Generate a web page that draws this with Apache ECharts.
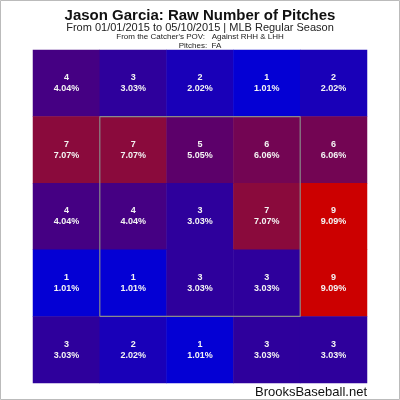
<!DOCTYPE html>
<html><head><meta charset="utf-8">
<script src="https://cdn.jsdelivr.net/npm/echarts@6/dist/echarts.min.js"></script>
<style>html,body{margin:0;padding:0;background:#fff}#c{width:400px;height:400px}</style>
</head><body><div id="c"></div>
<script>
const titleText = 'Jason Garcia: Raw Number of Pitches';
const subText = 'From 01/01/2015 to 05/10/2015 | MLB Regular Season';
const povText = "From the Catcher's POV:   Against RHH & LHH";
const pitchText = 'Pitches:  FA';
const colCats = ['c1','c2','c3','c4','c5'];
const rowCats = ['r1','r2','r3','r4','r5'];
const row1 = [4,3,2,1,2];
const row2 = [7,7,5,6,6];
const row3 = [4,4,3,7,9];
const row4 = [1,1,3,3,9];
const row5 = [3,2,1,3,3];
const zoneX = [1,4,4,1,1];
const zoneY = [1,1,4,4,1];

const rows = [row1,row2,row3,row4,row5];
const total = rows.flat().reduce((a,b)=>a+b,0);
const data = [];
rows.forEach((r,ri)=>r.forEach((v,ci)=>data.push([ci,ri,v])));

const chart = echarts.init(document.getElementById('c'));
chart.setOption({
  animation:false,
  backgroundColor:'#fff',
  title:[
    {text:titleText,left:'center',top:8,padding:0,textStyle:{fontFamily:'Liberation Sans',fontWeight:'bold',fontSize:15,color:'#111'}},
    {text:subText,left:'center',top:22,padding:0,textStyle:{fontFamily:'Liberation Sans',fontWeight:'normal',fontSize:11,color:'#222'}},
    {text:povText,left:'center',top:33,padding:0,textStyle:{fontFamily:'Liberation Sans',fontWeight:'normal',fontSize:8,color:'#222'}},
    {text:pitchText,left:'center',top:42,padding:0,textStyle:{fontFamily:'Liberation Sans',fontWeight:'normal',fontSize:8,color:'#222'}},
    {text:'BrooksBaseball.net',right:33,top:386,padding:0,textStyle:{fontFamily:'Liberation Sans',fontWeight:'normal',fontSize:13,color:'#111'}}
  ],
  grid:{left:33,right:33,top:50,bottom:17},
  xAxis:[
    {type:'category',data:colCats,show:false},
    {type:'value',min:0,max:5,show:false}
  ],
  yAxis:[
    {type:'category',data:rowCats,inverse:true,show:false},
    {type:'value',min:0,max:5,show:false}
  ],
  visualMap:{show:false,min:1,max:9,dimension:2,seriesIndex:0,
    inRange:{color:['#0400d4','#2e009c','#5c006a','#8a0a3c','#cc0000']}},
  series:[
    {type:'heatmap',data:data,xAxisIndex:0,yAxisIndex:0,
      label:{show:true,color:'#f4f4f4',fontFamily:'Liberation Sans',fontWeight:'bold',fontSize:9,lineHeight:11,
        formatter:p=>p.value[2]+'\n'+(p.value[2]/total*100).toFixed(2)+'%'},
      itemStyle:{borderWidth:0},
      emphasis:{disabled:true}},
    {type:'line',xAxisIndex:1,yAxisIndex:1,data:zoneX.map((x,i)=>[x,zoneY[i]]),
      symbol:'none',lineStyle:{color:'#8a8a8a',width:1.2},silent:true,z:10}
  ],
  graphic:[{type:'rect',shape:{x:0.5,y:0.5,width:399,height:399},style:{fill:'none',stroke:'#bbb',lineWidth:1},silent:true}]
});
</script></body></html>
